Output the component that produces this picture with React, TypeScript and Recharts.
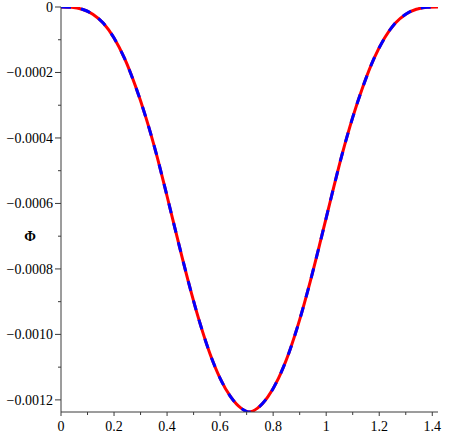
import React from 'react';
import { LineChart, Line, XAxis, YAxis } from 'recharts';

const xValues = [
  0, 0.04, 0.08, 0.12, 0.16, 0.2, 0.24, 0.28, 0.32, 0.36, 0.4, 0.44, 0.48, 0.52, 0.56,
  0.6, 0.64, 0.68, 0.71, 0.74, 0.78, 0.82, 0.86, 0.9, 0.94, 0.98, 1.02, 1.06, 1.1, 1.14,
  1.18, 1.22, 1.26, 1.3, 1.34, 1.38, 1.42, 1.4216,
];

const phiRed = [
  0, -0.000001, -0.000007, -0.000022, -0.00005, -0.000095, -0.000158, -0.00024, -0.000337,
  -0.00045, -0.000578, -0.00071, -0.000838, -0.000955, -0.001055, -0.001134, -0.001191,
  -0.001226, -0.001237, -0.001226, -0.001191, -0.001134, -0.001055, -0.000955, -0.000838,
  -0.00071, -0.000578, -0.00045, -0.000337, -0.00024, -0.000158, -0.000095, -0.00005,
  -0.000022, -0.000007, -0.000001, 0, 0,
];

const phiBlue = [
  0, -0.000001, -0.000007, -0.000022, -0.00005, -0.000095, -0.000158, -0.00024, -0.000337,
  -0.00045, -0.000578, -0.00071, -0.000838, -0.000955, -0.001055, -0.001134, -0.001191,
  -0.001226, -0.001237, -0.001226, -0.001191, -0.001134, -0.001055, -0.000955, -0.000838,
  -0.00071, -0.000578, -0.00045, -0.000337, -0.00024, -0.000158, -0.000095, -0.00005,
  -0.000022, -0.000007, -0.000001, 0, 0,
];

const xTicks = [0, 0.1, 0.2, 0.3, 0.4, 0.5, 0.6, 0.7, 0.8, 0.9, 1, 1.1, 1.2, 1.3, 1.4];
const yTicks = [
  0, -0.0001, -0.0002, -0.0003, -0.0004, -0.0005, -0.0006, -0.0007, -0.0008, -0.0009,
  -0.001, -0.0011, -0.0012,
];

const xMax = 1.4216;
const yMin = -0.001237;

const data = xValues.map((x, i) => ({ x, red: phiRed[i], blue: phiBlue[i] }));

const FONT = '"Times New Roman", Times, "Liberation Serif", "DejaVu Serif", serif';
const AXIS_COLOR = '#3a3a3a';

const XTick = (props: any) => {
  const { x, y, payload } = props;
  const v = payload.value as number;
  const major = Math.round(v * 10) % 2 === 0;
  const axisY = y - 4 - 5;
  const label = String(Math.round(v * 10) / 10);
  return (
    <g>
      <line x1={x} x2={x} y1={axisY} y2={axisY + (major ? 4 : 3)} stroke={AXIS_COLOR} strokeWidth={1} />
      {major && (
        <text x={x} y={y} dy="0.71em" textAnchor="middle" fontFamily={FONT} fontSize={14} fill="#000">
          {label}
        </text>
      )}
    </g>
  );
};

const YTick = (props: any) => {
  const { x, y, payload } = props;
  const v = payload.value as number;
  const n = Math.round(-v * 10000);
  const major = n % 2 === 0;
  const axisX = x + 6 + 2;
  const label = n === 0 ? '0' : '\u2212' + (-v).toFixed(4);
  return (
    <g>
      <line x1={axisX - (major ? 6 : 3)} x2={axisX} y1={y} y2={y} stroke={AXIS_COLOR} strokeWidth={1} />
      {major && (
        <text x={x} y={y} dy="0.35em" textAnchor="end" fontFamily={FONT} fontSize={14} fill="#000">
          {label}
        </text>
      )}
    </g>
  );
};

const PhiLabel = (props: any) => {
  const vb = props.viewBox || {};
  return (
    <text
      x={vb.x + 19}
      y={vb.y + vb.height * 0.565}
      dy="0.35em"
      textAnchor="middle"
      fontFamily={FONT}
      fontSize={14}
      fontWeight="bold"
      fill="#000"
    >
      Φ
    </text>
  );
};

export default function App() {
  return (
    <div style={{ position: 'absolute', left: 0, top: 0, background: '#fff', fontFamily: FONT }}>
      <LineChart
        width={449}
        height={444}
        data={data}
        margin={{ top: 7, right: 11, bottom: 6, left: 11 }}
      >
        <XAxis
          xAxisId="bottom"
          dataKey="x"
          type="number"
          domain={[0, xMax]}
          ticks={xTicks}
          interval={0}
          tick={<XTick />}
          tickLine={false}
          tickSize={4}
          tickMargin={5}
          axisLine={{ stroke: AXIS_COLOR, strokeWidth: 1 }}
          height={26}
          allowDataOverflow
        />
        <XAxis
          xAxisId="top"
          orientation="top"
          dataKey="x"
          type="number"
          domain={[0, xMax]}
          tick={false}
          tickLine={false}
          axisLine={{ stroke: '#7a7a7a', strokeWidth: 1.5 }}
          height={0}
          allowDataOverflow
        />
        <YAxis
          yAxisId="left"
          type="number"
          domain={[yMin, 0]}
          ticks={yTicks}
          interval={0}
          tick={<YTick />}
          tickLine={false}
          tickSize={6}
          tickMargin={2}
          axisLine={{ stroke: AXIS_COLOR, strokeWidth: 1 }}
          width={50}
          allowDataOverflow
          label={<PhiLabel />}
        />
        <YAxis
          yAxisId="right"
          orientation="right"
          type="number"
          domain={[yMin, 0]}
          tick={false}
          tickLine={false}
          axisLine={{ stroke: '#333', strokeWidth: 1 }}
          width={0}
          allowDataOverflow
        />
        <Line
          xAxisId="bottom"
          yAxisId="left"
          type="monotone"
          dataKey="red"
          stroke="#ff0000"
          strokeWidth={3}
          dot={false}
          isAnimationActive={false}
        />
        <Line
          xAxisId="bottom"
          yAxisId="left"
          type="monotone"
          dataKey="blue"
          stroke="#0000ff"
          strokeWidth={3}
          strokeDasharray="10 10"
          dot={false}
          isAnimationActive={false}
        />
      </LineChart>
    </div>
  );
}
